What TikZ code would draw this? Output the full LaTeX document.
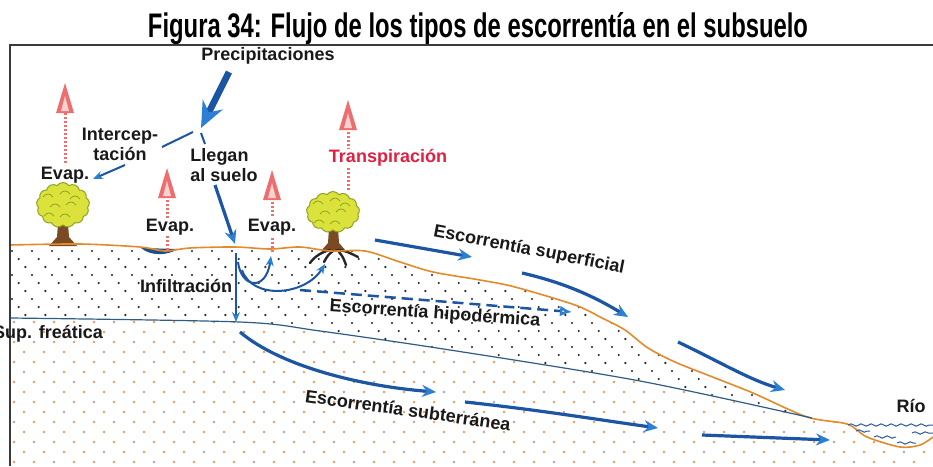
\documentclass[tikz,border=0pt]{standalone}
\usepackage{graphicx}
\usepackage{fontspec}
\setmainfont{Liberation Sans}
\usetikzlibrary{arrows.meta,shapes.symbols,decorations.pathmorphing}

\definecolor{flowblue}{HTML}{1B55A3}
\definecolor{headblue}{HTML}{2C7FD3}
\definecolor{evapred}{HTML}{EE6E6E}
\definecolor{evaplight}{HTML}{FAD2D2}
\definecolor{transred}{HTML}{E02040}
\definecolor{groundorange}{HTML}{E38B2C}
\definecolor{tableblue}{HTML}{2E5C86}
\definecolor{riverblue}{HTML}{2A5A9A}
\definecolor{crown}{HTML}{DCE23C}
\definecolor{crownline}{HTML}{8DA323}
\definecolor{trunk}{HTML}{7A4A22}
\definecolor{soildot}{HTML}{222222}
\definecolor{aquidot}{HTML}{EC9A60}
\definecolor{aquidotgray}{HTML}{B9A0A8}
\definecolor{framegray}{HTML}{3A3A3A}
\definecolor{puddle}{HTML}{1D4E8A}

% vertical evaporation arrow: x, tip, head base, shaft foot
\newcommand\evaparrow[4]{%
  \draw[evapred, line width=3, dash pattern=on 2 off 2] (#1,#4) -- (#1,#3);
  \fill[evapred] (#1-9,#3+1) -- (#1,#2) -- (#1+9,#3+1) -- cycle;
  \fill[evaplight] (#1-4,#3-1) -- (#1,#2+13) -- (#1+4,#3-1) -- cycle;
}

\tikzset{
  x=1pt, y=-1pt,
  lbl/.style={font=\bfseries\fontsize{18}{20}\selectfont, text=black!90, inner sep=1pt},
  flow/.style={draw=flowblue, line width=3.2, -{Stealth[length=14, width=12, color=headblue]}},
  thinflow/.style={draw=flowblue, line width=2, -{Stealth[length=10, width=8, color=headblue]}},
  twig/.style={draw=flowblue, line width=2},
  crownshape/.style={cloud, cloud puffs=13, cloud puff arc=110, aspect=1.2,
    fill=crown, draw=crownline, line width=1, inner sep=0},
  texture/.style={draw=crownline, line width=0.8},
}

\begin{document}
\begin{tikzpicture}
\useasboundingbox (0,0) rectangle (933,466);
\fill[white] (0,0) rectangle (933,466);

% title
\node[anchor=base] (title) at (478,37)
  {\resizebox{660pt}{25pt}{\bfseries\fontsize{33}{36}\selectfont Figura 34: Flujo de los tipos de escorrent\'ia en el subsuelo}};

% soil dots
\begin{scope}
  \clip plot[smooth, tension=0.5] coordinates {(10,245) (80,244) (140,247) (165,251) (190,248) (235,247) (270,249) (300,247) (330,251) (365,251) (400,262) (433,272) (480,280) (515,287) (575,305) (602,318) (625,330) (648,348) (675,362) (710,376) (753,393) (807,417) (847,424) (867,437) (900,447) (920,445) (933,437)} -- (933,470) -- (10,470) -- cycle;
  % unsaturated zone
  \begin{scope}
    \clip plot[smooth, tension=0.5] coordinates {(10,318) (240,322) (320,331) (450,350) (640,381) (812,418)} -- (933,420) -- (933,200) -- (10,200) -- cycle;
    \foreach \r [evaluate=\r as \yy using {251+\r*8}, evaluate=\r as \off using {mod(\r,3)*6.7}] in {0,...,22}
      \foreach \c in {0,...,46}
        \fill[soildot] (\c*20+\off+12,\yy) circle (1.2);
  \end{scope}
  % saturated zone
  \begin{scope}
    \clip plot[smooth, tension=0.5] coordinates {(10,318) (240,322) (320,331) (450,350) (640,381) (812,418)} -- (933,420) -- (933,470) -- (10,470) -- cycle;
    \foreach \r [evaluate=\r as \yy using {322+\r*10}, evaluate=\r as \off using {mod(\r,2)*10}] in {0,...,14}
      \foreach \c in {0,...,46} {
        \pgfmathtruncatemacro\pick{mod(\c+2*\r,5)}
        \ifnum\pick=0
          \fill[aquidotgray] (\c*20+\off+14,\yy) circle (1.3);
        \else
          \fill[aquidot] (\c*20+\off+14,\yy) circle (1.3);
        \fi
      }
  \end{scope}
\end{scope}

% puddle
\fill[puddle] (141,248) .. controls (150,256) and (168,256) .. (177,249) -- cycle;

% trunks
\fill[trunk] (58,224) -- (68,224) -- (69,237) -- (77,246) -- (49,246) -- (57,237) -- cycle;
\fill[trunk] (329,228) -- (338,228) -- (339,243) -- (346,251) -- (321,251) -- (328,243) -- cycle;

% roots
\begin{scope}[line width=2.4, black!85, line cap=round]
  \draw (330,250) .. controls (322,252) and (315,256) .. (310,263);
  \draw (333,251) .. controls (328,255) .. (324,262);
  \draw (337,250) .. controls (346,251) .. (358,257);
  \draw (339,252) .. controls (343,257) .. (346,265);
\end{scope}

% ground surface and water table
\draw[groundorange, line width=1.6] plot[smooth, tension=0.5] coordinates {(10,245) (80,244) (140,247) (165,251) (190,248) (235,247) (270,249) (300,247) (330,251) (365,251) (400,262) (433,272) (480,280) (515,287) (575,305) (602,318) (625,330) (648,348) (675,362) (710,376) (753,393) (807,417) (847,424) (867,437) (900,447) (920,445) (933,437)};
\draw[tableblue, line width=1.2] plot[smooth, tension=0.5] coordinates {(10,318) (240,322) (320,331) (450,350) (640,381) (812,418)};

% river
\begin{scope}[riverblue, line width=1, decoration={snake, amplitude=1.2, segment length=10}]
  \draw[decorate] (848,425) -- (933,425);
  \draw[decorate] (856,431) -- (870,431);
  \draw[decorate] (874,437) -- (896,437);
  \draw[decorate] (897,443) -- (916,443);
  \draw[decorate] (912,433) -- (933,433);
\end{scope}

% crowns
\node[crownshape, minimum width=53, minimum height=45] (crownA) at (63,205) {};
\node[crownshape, minimum width=53, minimum height=41] (crownB) at (333,212) {};
\foreach \cx/\cy in {63/205, 333/212}
  \foreach \dx/\dy in {-15/-8, 2/-11, -8/2, 8/0, -14/11, 2/12, 12/-6}
    \draw[texture] (\cx+\dx-5,\cy+\dy) .. controls +(3,-4) and +(-3,-4) .. +(10,0);

% frame
\draw[framegray, line width=1.5] (10,466) -- (10,45) -- (933,45);

% evaporation and transpiration
\evaparrow{65}{83}{112}{163}
\evaparrow{167}{168}{197}{250}
\evaparrow{272}{170}{199}{252}
\evaparrow{348}{100}{129}{190}

% labels
\node[lbl] (prec) at (268,56) {Precipitaciones};
\node[lbl, align=center] (inter) at (120,144) {Intercep-\\taci\'on};
\node[lbl] (evapA) at (65,175) {Evap.};
\node[lbl, align=left] (llegan) at (224,165) {Llegan\\al suelo};
\node[lbl, fill=white] (evapB) at (170,227) {Evap.};
\node[lbl, fill=white] (evapC) at (272,227) {Evap.};
\node[lbl, text=transred, fill=white] (trans) at (388,158) {Transpiraci\'on};
\node[lbl] (infil) at (186,286) {Infiltraci\'on};
\node[lbl, anchor=base west] (freat) at (-8,338) {Sup. fre\'atica};
\node[lbl] (rio) at (911,406) {R\'io};
\node[lbl, rotate=-11] (esup) at (529,250) {Escorrent\'ia superficial};
\node[lbl, rotate=-4] (ehipo) at (435,314) {Escorrent\'ia hipod\'ermica};
\node[lbl, rotate=-8] (esub) at (408,410) {Escorrent\'ia subterr\'anea};

% precipitation split
\coordinate (split) at (201,128);
\draw[draw=flowblue, line width=6.5, -{Stealth[length=26, width=22, color=headblue]}] (229,72) -- (split);
\draw[twig] (193,132) -- (162,147);
\draw[twig] (201,133) -- (205,144);
\draw[thinflow] (125,165) -- (93,179);
\draw[flow] (215,185) -- (235,244);

% infiltration and return to surface and roots
\draw[thinflow] (236,253) -- (236,322);
\draw[thinflow] (238,262) .. controls (241,288) and (266,292) .. (271,256);
\draw[thinflow] (242,270) .. controls (252,300) and (305,296) .. (325,264);

% subsurface flow
\draw[draw=flowblue, line width=2.5, dash pattern=on 11 off 6, -{Latex[open, length=12, width=11, color=headblue]}] (300,290) -- (572,312);

% surface runoff
\draw[flow] (375,240) -- (472,257);
\draw[flow] (522,273) .. controls (570,284) and (600,300) .. (628,317);
\draw[flow] (678,342) .. controls (720,362) and (750,380) .. (785,390);

% groundwater flow
\draw[flow] (240,332) .. controls (280,366) and (360,386) .. (436,392);
\draw[flow] (465,402) .. controls (540,410) and (600,420) .. (658,428);
\draw[flow] (702,435) -- (830,440);
\end{tikzpicture}
\end{document}
